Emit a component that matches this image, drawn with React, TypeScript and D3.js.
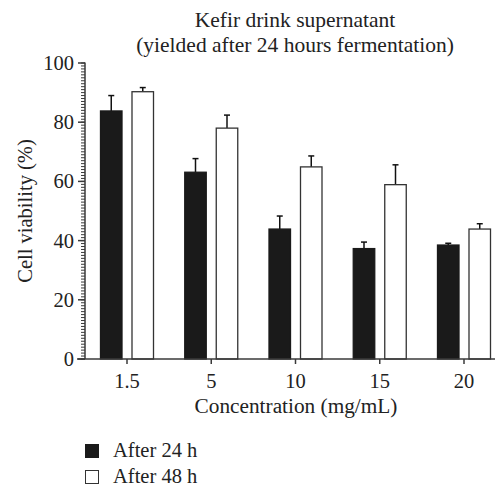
import React from "react";
import * as d3 from "d3";

const categories = ["1.5", "5", "10", "15", "20"];
const after24 = [83.8, 63.1, 43.9, 37.3, 38.5];
const after24Err = [5.2, 4.6, 4.4, 2.2, 0.6];
const after48 = [90.3, 78.0, 64.9, 58.9, 43.9];
const after48Err = [1.4, 4.4, 3.7, 6.7, 1.8];
const yTicks = [0, 20, 40, 60, 80, 100];
const seriesNames = ["After 24 h", "After 48 h"];

const W = 495;
const H = 485;
const FONT = "Liberation Serif, DejaVu Serif";
const AXIS = "#3a3a3a";

export default function App() {
  const x = d3.scalePoint<string>().domain(categories).range([127, 464]);
  const y = d3.scaleLinear().domain([0, 100]).range([359, 63]);
  const axisX = 85;
  const barW = 21.5;
  const gap = 5;
  const minorTicks = d3.range(0, 101, 1);

  const series = [
    { vals: after24, errs: after24Err, fill: "#1a1a1a", off: -gap - barW },
    { vals: after48, errs: after48Err, fill: "#ffffff", off: gap },
  ];

  return (
    <svg
      width={W}
      height={H}
      style={{ position: "absolute", left: 0, top: 0, background: "#fff", fontFamily: FONT }}
    >
      <rect x={0} y={0} width={W} height={H} fill="#fff" />
      {/* Title */}
      <text x={295} y={27} textAnchor="middle" fontSize={21.5} fill="#222">
        Kefir drink supernatant
      </text>
      <text x={295} y={52} textAnchor="middle" fontSize={21.5} fill="#222">
        (yielded after 24 hours fermentation)
      </text>

      {/* Bars */}
      {series.map((s, si) =>
        s.vals.map((v, i) => {
          const cx = (x(categories[i]) as number) + s.off;
          const top = y(v);
          const errTop = y(v + s.errs[i]);
          const mid = cx + barW / 2;
          return (
            <g key={`${si}-${i}`}>
              <line x1={mid} x2={mid} y1={top} y2={errTop} stroke="#111" strokeWidth={1.5} />
              <line x1={mid - 3} x2={mid + 3} y1={errTop} y2={errTop} stroke="#111" strokeWidth={1.5} />
              <rect
                x={cx}
                y={top}
                width={barW}
                height={y(0) - top}
                fill={s.fill}
                stroke={si === 0 ? "#1a1a1a" : "#333"}
                strokeWidth={1.3}
              />
            </g>
          );
        })
      )}

      {/* Y axis */}
      <line x1={axisX} x2={axisX} y1={y(100) - 0.5} y2={y(0)} stroke={AXIS} strokeWidth={1.5} />
      {minorTicks.map((t) => (
        <line key={`m${t}`} x1={axisX - 4} x2={axisX} y1={y(t)} y2={y(t)} stroke={AXIS} strokeWidth={1} />
      ))}
      {yTicks.map((t) => (
        <g key={`y${t}`}>
          <line x1={axisX - 7} x2={axisX} y1={y(t)} y2={y(t)} stroke={AXIS} strokeWidth={1.5} />
          <text x={axisX - 11} y={y(t) + 7} textAnchor="end" fontSize={20.5} fill="#222">
            {t}
          </text>
        </g>
      ))}
      <text
        transform={`translate(32, ${y(50)}) rotate(-90)`}
        textAnchor="middle"
        fontSize={20.5}
        fill="#222"
      >
        Cell viability (%)
      </text>

      {/* X axis */}
      <line x1={77} x2={W} y1={y(0)} y2={y(0)} stroke={AXIS} strokeWidth={1.5} />
      {categories.map((c) => (
        <g key={`x${c}`}>
          <line x1={x(c)} x2={x(c)} y1={y(0)} y2={y(0) + 5} stroke={AXIS} strokeWidth={1.5} />
          <text x={x(c)} y={388} textAnchor="middle" fontSize={20.5} fill="#222">
            {c}
          </text>
        </g>
      ))}
      <text x={296} y={413} textAnchor="middle" fontSize={21.3} fill="#222">
        Concentration (mg/mL)
      </text>

      {/* Legend */}
      {seriesNames.map((n, i) => (
        <g key={n}>
          <rect
            x={85.5}
            y={444.5 + i * 26}
            width={13}
            height={13}
            fill={i === 0 ? "#1a1a1a" : "#fff"}
            stroke={i === 0 ? "#1a1a1a" : "#333"}
            strokeWidth={1}
          />
          <text x={113} y={457 + i * 26} fontSize={20.5} fill="#222">
            {n}
          </text>
        </g>
      ))}
    </svg>
  );
}
